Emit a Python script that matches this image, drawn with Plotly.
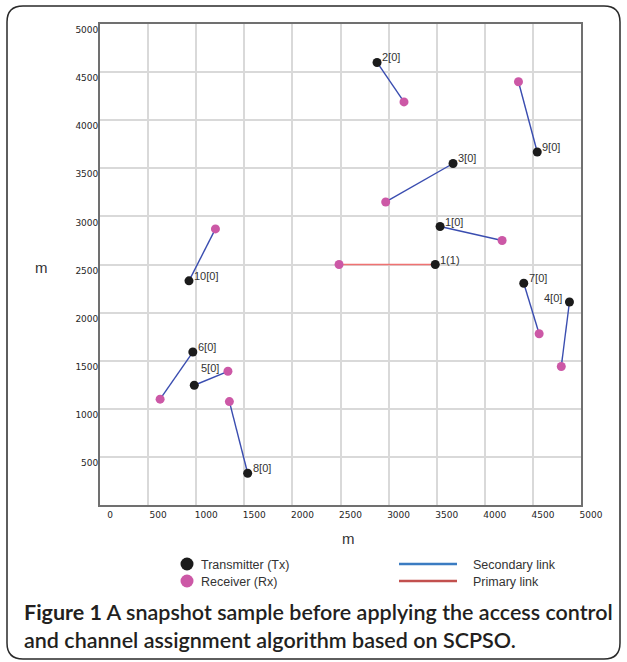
import plotly.graph_objects as go

# ---- data -------------------------------------------------------------
link_labels = ["2[0]", "9[0]", "3[0]", "1[0]", "1(1)", "7[0]", "4[0]",
               "10[0]", "6[0]", "5[0]", "8[0]"]
tx_x = [2880, 4545, 3670, 3535, 3485, 4405, 4880, 925, 965, 980, 1535]
tx_y = [4600, 3670, 3550, 2895, 2500, 2305, 2110, 2330, 1590, 1245, 330]
rx_x = [3160, 4350, 2970, 4180, 2485, 4565, 4795, 1200, 625, 1330, 1345]
rx_y = [4190, 4400, 3150, 2750, 2500, 1780, 1440, 2870, 1100, 1390, 1075]
link_kind = ["secondary", "secondary", "secondary", "secondary", "primary",
             "secondary", "secondary", "secondary", "secondary", "secondary",
             "secondary"]

x_ticks = [0, 500, 1000, 1500, 2000, 2500, 3000, 3500, 4000, 4500, 5000]
y_ticks = [500, 1000, 1500, 2000, 2500, 3000, 3500, 4000, 4500, 5000]

legend_marker_names = ["Transmitter (Tx)", "Receiver (Rx)"]
legend_line_names = ["Secondary link", "Primary link"]

caption = ("<b>Figure 1</b> A snapshot sample before applying the access control"
           "<br>and channel assignment algorithm based on SCPSO.")

# ---- styling ----------------------------------------------------------
W, H = 627, 662
ML, MR, MT, MB = 100, 46, 24, 157
PW, PH = W - ML - MR, H - MT - MB

TX_COLOR = "#1b1b1b"
RX_COLOR = "#cc58a6"
SEC_COLOR = "#3a4db0"
PRI_COLOR = "#f07272"
LEG_SEC = "#3b7cc2"
LEG_PRI = "#c2504e"
TEXT = "#333333"
TICK_TEXT = "#262626"

# label placement around transmitters: (xshift, yshift, xanchor)
label_place = {"5[0]": (5, 17, "left"), "4[0]": (-5, 4, "right")}
default_place = (3, 5, "left")


def px_x(p):
    return (p - ML) / PW


def px_y(p):
    return (H - MB - p) / PH


fig = go.Figure()

# links
for kind, color, width in (("secondary", SEC_COLOR, 1.4), ("primary", PRI_COLOR, 1.6)):
    xs, ys = [], []
    for i, k in enumerate(link_kind):
        if k == kind:
            xs += [tx_x[i], rx_x[i], None]
            ys += [tx_y[i], rx_y[i], None]
    fig.add_trace(go.Scatter(x=xs, y=ys, mode="lines", name=kind,
                             line=dict(color=color, width=width),
                             hoverinfo="skip", showlegend=False))

# receivers and transmitters
fig.add_trace(go.Scatter(x=rx_x, y=rx_y, mode="markers", name="Receiver (Rx)",
                         marker=dict(color=RX_COLOR, size=9), showlegend=False))
fig.add_trace(go.Scatter(x=tx_x, y=tx_y, mode="markers", name="Transmitter (Tx)",
                         marker=dict(color=TX_COLOR, size=9), showlegend=False))

# transmitter labels
for i, lab in enumerate(link_labels):
    dx, dy, anc = label_place.get(lab, default_place)
    fig.add_annotation(x=tx_x[i], y=tx_y[i], text=lab, showarrow=False,
                       xanchor=anc, yanchor="middle", xshift=dx, yshift=dy,
                       font=dict(family="Liberation Sans, Arial", size=11, color=TEXT))

axis_common = dict(range=[0, 5000], showgrid=True, gridcolor="#d9d9d9", gridwidth=1.5,
                   showline=True, linecolor="#707070", linewidth=1.8, mirror=True,
                   zeroline=False, ticks="",
                   tickfont=dict(family="DejaVu Sans", size=9, color=TICK_TEXT))

fig.update_xaxes(tickvals=x_ticks, ticktext=[str(v) for v in x_ticks],
                 ticklabelshift=10, ticklabelstandoff=0, **axis_common)
fig.update_yaxes(tickvals=y_ticks, ticktext=[str(v) for v in y_ticks],
                 ticklabelshift=6, ticklabelstandoff=-2, **axis_common)

# axis titles
fig.add_annotation(xref="paper", yref="paper", x=px_x(348), y=px_y(538), text="m",
                   showarrow=False, xanchor="center", yanchor="middle",
                   font=dict(family="Liberation Sans, Arial", size=15, color=TEXT))
fig.add_annotation(xref="paper", yref="paper", x=px_x(41), y=px_y(267), text="m",
                   showarrow=False, xanchor="center", yanchor="middle",
                   font=dict(family="Liberation Sans, Arial", size=15, color=TEXT))

# legend
shapes = []
for name, color, yc in zip(legend_marker_names, (TX_COLOR, RX_COLOR), (564, 581)):
    shapes.append(dict(type="circle", xref="paper", yref="paper",
                       xsizemode="pixel", ysizemode="pixel",
                       xanchor=px_x(187), yanchor=px_y(yc),
                       x0=-6.5, x1=6.5, y0=-6.5, y1=6.5,
                       fillcolor=color, line=dict(width=0)))
    fig.add_annotation(xref="paper", yref="paper", x=px_x(199), y=px_y(yc + 1), text=name,
                       showarrow=False, xanchor="left", yanchor="middle",
                       font=dict(family="Liberation Sans, Arial", size=12.5, color=TEXT))
for name, color, yc in zip(legend_line_names, (LEG_SEC, LEG_PRI), (564, 581)):
    shapes.append(dict(type="line", xref="paper", yref="paper",
                       x0=px_x(399), x1=px_x(457), y0=px_y(yc), y1=px_y(yc),
                       line=dict(color=color, width=2.5)))
    fig.add_annotation(xref="paper", yref="paper", x=px_x(471), y=px_y(yc + 1), text=name,
                       showarrow=False, xanchor="left", yanchor="middle",
                       font=dict(family="Liberation Sans, Arial", size=12.5, color=TEXT))

# rounded frame around the whole figure
l, r, t, b, rad = 7, 620, 6, 659, 16
path = (f"M {px_x(l + rad)},{px_y(t)} L {px_x(r - rad)},{px_y(t)} "
        f"Q {px_x(r)},{px_y(t)} {px_x(r)},{px_y(t + rad)} "
        f"L {px_x(r)},{px_y(b - rad)} Q {px_x(r)},{px_y(b)} {px_x(r - rad)},{px_y(b)} "
        f"L {px_x(l + rad)},{px_y(b)} Q {px_x(l)},{px_y(b)} {px_x(l)},{px_y(b - rad)} "
        f"L {px_x(l)},{px_y(t + rad)} Q {px_x(l)},{px_y(t)} {px_x(l + rad)},{px_y(t)} Z")
shapes.append(dict(type="path", xref="paper", yref="paper", path=path,
                   line=dict(color="#2a2a2a", width=1.5), layer="below"))

# caption
fig.add_annotation(xref="paper", yref="paper", x=px_x(22), y=px_y(626), text=caption,
                   showarrow=False, xanchor="left", yanchor="middle", align="left",
                   font=dict(family="Lato, Liberation Sans", size=21.5, color="#231f20",
                             weight=600))

fig.update_layout(width=W, height=H, margin=dict(l=ML, r=MR, t=MT, b=MB),
                  paper_bgcolor="white", plot_bgcolor="white", shapes=shapes,
                  showlegend=False)

fig.write_html("out.html")
